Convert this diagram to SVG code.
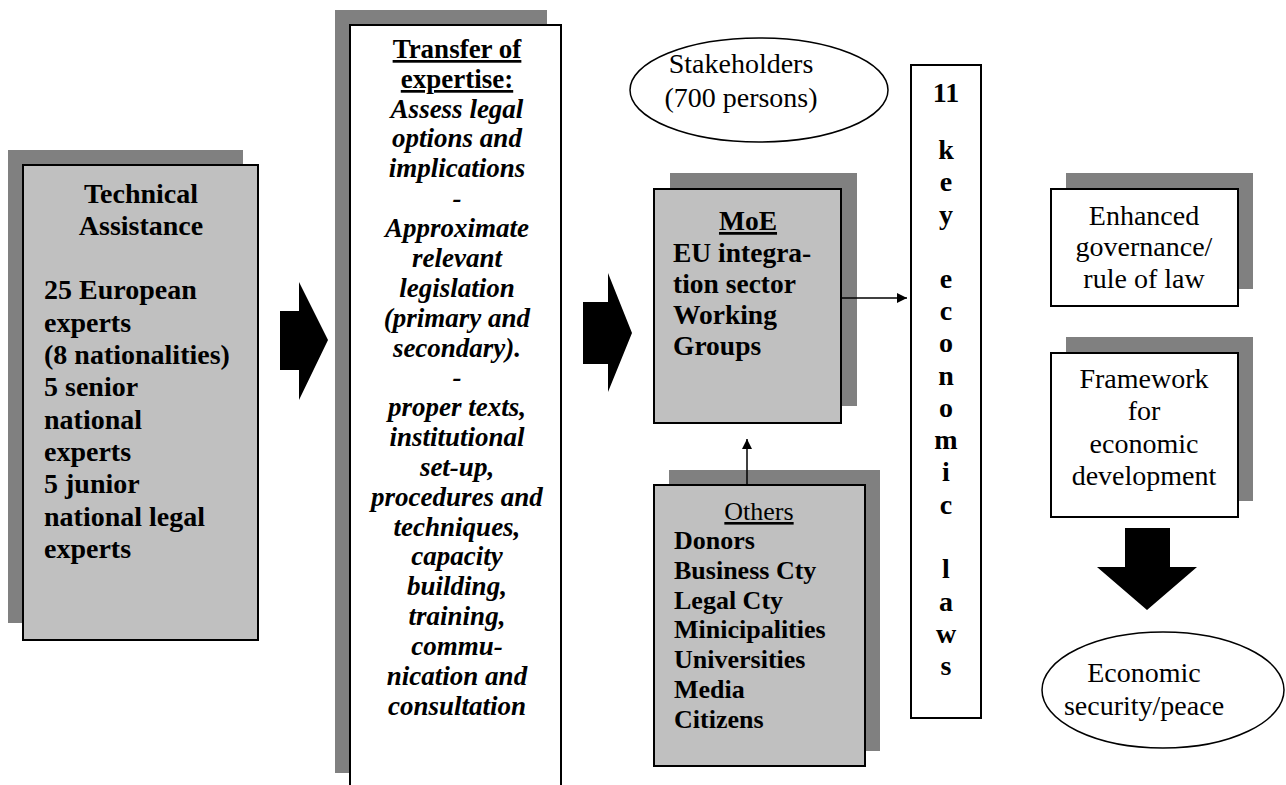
<svg xmlns="http://www.w3.org/2000/svg" width="1286" height="785" viewBox="0 0 1286 785">
<defs>
<style>
text{font-family:"Liberation Serif","Times New Roman",serif;fill:#000}
.shadow{fill:#808080}
.gbox{fill:#C0C0C0;stroke:#000;stroke-width:2}
.wbox{fill:#fff;stroke:#000;stroke-width:2}
.b{font-weight:bold}
.bi{font-weight:bold;font-style:italic}
.u{text-decoration:underline}
.c{text-anchor:middle}
.blk{fill:#000}
.ln{stroke:#000;stroke-width:1.5;fill:none}
</style>
<marker id="ah" viewBox="0 0 10 10" refX="10" refY="5" markerWidth="10" markerHeight="10" markerUnits="userSpaceOnUse" orient="auto">
<path d="M0,0 L10,5 L0,10 z" fill="#000"/>
</marker>
</defs>
<rect width="1286" height="785" fill="#fff"/>

<g id="technical-assistance">
<rect class="shadow" x="8" y="150" width="235" height="473"/>
<rect class="gbox" x="23" y="165" width="235" height="475"/>
<g class="b" font-size="28">
<text class="c" x="141" y="203">Technical</text>
<text class="c" x="141" y="235">Assistance</text>
<text x="44" y="299">25 European</text>
<text x="44" y="332">experts</text>
<text x="44" y="364">(8 nationalities)</text>
<text x="44" y="396">5 senior</text>
<text x="44" y="429">national</text>
<text x="44" y="461">experts</text>
<text x="44" y="493">5 junior</text>
<text x="44" y="526">national legal</text>
<text x="44" y="558">experts</text>
</g>
</g>

<g id="transfer-of-expertise">
<rect class="shadow" x="335" y="10" width="212" height="763"/>
<rect class="wbox" x="350" y="25" width="211" height="770"/>
<g font-size="27">
<text class="c b u" x="457" y="58">Transfer of</text>
<text class="c b u" x="457" y="88">expertise:</text>
<text class="c bi" x="457" y="118">Assess legal</text>
<text class="c bi" x="457" y="147">options and</text>
<text class="c bi" x="457" y="177">implications</text>
<text class="c bi" x="457" y="207">-</text>
<text class="c bi" x="457" y="237">Approximate</text>
<text class="c bi" x="457" y="267">relevant</text>
<text class="c bi" x="457" y="297">legislation</text>
<text class="c bi" x="457" y="327">(primary and</text>
<text class="c bi" x="457" y="357">secondary).</text>
<text class="c bi" x="457" y="386">-</text>
<text class="c bi" x="457" y="416">proper texts,</text>
<text class="c bi" x="457" y="446">institutional</text>
<text class="c bi" x="457" y="476">set-up,</text>
<text class="c bi" x="457" y="506">procedures and</text>
<text class="c bi" x="457" y="536">techniques,</text>
<text class="c bi" x="457" y="565">capacity</text>
<text class="c bi" x="457" y="595">building,</text>
<text class="c bi" x="457" y="625">training,</text>
<text class="c bi" x="457" y="655">commu-</text>
<text class="c bi" x="457" y="685">nication and</text>
<text class="c bi" x="457" y="715">consultation</text>
</g>
</g>

<g id="stakeholders">
<ellipse cx="759" cy="90" rx="129" ry="52" fill="#fff" stroke="#000" stroke-width="1.5"/>
<text class="c" x="741" y="73" font-size="28">Stakeholders</text>
<text class="c" x="741" y="107" font-size="28">(700 persons)</text>
</g>

<g id="moe">
<rect class="shadow" x="670" y="173" width="187" height="233"/>
<rect class="gbox" x="654" y="189" width="187" height="234"/>
<g class="b" font-size="27.5">
<text class="c u" x="748" y="230">MoE</text>
<text x="673" y="262">EU integra-</text>
<text x="673" y="293">tion sector</text>
<text x="673" y="324">Working</text>
<text x="673" y="355">Groups</text>
</g>
</g>

<g id="others">
<rect class="shadow" x="669" y="470" width="211" height="281"/>
<rect class="gbox" x="654" y="485" width="211" height="281"/>
<text class="c u" x="759" y="520" font-size="26">Others</text>
<g class="b" font-size="26">
<text x="674" y="549">Donors</text>
<text x="674" y="579">Business Cty</text>
<text x="674" y="609">Legal Cty</text>
<text x="674" y="638">Minicipalities</text>
<text x="674" y="668">Universities</text>
<text x="674" y="698">Media</text>
<text x="674" y="728">Citizens</text>
</g>
</g>

<g id="key-laws">
<rect class="wbox" x="911" y="65" width="70" height="653"/>
<g class="b c" font-size="28">
<text x="946" y="102">11</text>
<text x="946" y="159">k</text>
<text x="946" y="191">e</text>
<text x="946" y="224">y</text>
<text x="946" y="288">e</text>
<text x="946" y="320">c</text>
<text x="946" y="352">o</text>
<text x="946" y="385">n</text>
<text x="946" y="417">o</text>
<text x="946" y="449">m</text>
<text x="946" y="481">i</text>
<text x="946" y="514">c</text>
<text x="946" y="578">l</text>
<text x="946" y="611">a</text>
<text x="946" y="643">w</text>
<text x="946" y="675">s</text>
</g>
</g>

<g id="governance">
<rect class="shadow" x="1066" y="173" width="187" height="116"/>
<rect class="wbox" x="1051" y="189" width="187" height="117"/>
<g class="c" font-size="28">
<text x="1144" y="225">Enhanced</text>
<text x="1144" y="256">governance/</text>
<text x="1144" y="288">rule of law</text>
</g>
</g>

<g id="framework">
<rect class="shadow" x="1066" y="337" width="187" height="164"/>
<rect class="wbox" x="1051" y="353" width="187" height="164"/>
<g class="c" font-size="28">
<text x="1144" y="388">Framework</text>
<text x="1144" y="420">for</text>
<text x="1144" y="453">economic</text>
<text x="1144" y="485">development</text>
</g>
</g>

<g id="economic-security">
<ellipse cx="1163" cy="690" rx="121" ry="58" fill="#fff" stroke="#000" stroke-width="1.5"/>
<g class="c" font-size="28">
<text x="1144" y="682">Economic</text>
<text x="1144" y="715">security/peace</text>
</g>
</g>

<g id="connectors">
<polygon class="blk" points="280,311 299,311 299,282 328,340 299,400 299,370 280,370"/>
<polygon class="blk" points="583,302 608,302 608,273 632,333 608,392 608,364 583,364"/>
<polygon class="blk" points="1125,528 1170,528 1170,567 1197,567 1147,610 1097,567 1125,567"/>
<line class="ln" x1="841" y1="298" x2="907" y2="298" marker-end="url(#ah)"/>
<line class="ln" x1="747" y1="485" x2="747" y2="439" marker-end="url(#ah)"/>
</g>
</svg>
